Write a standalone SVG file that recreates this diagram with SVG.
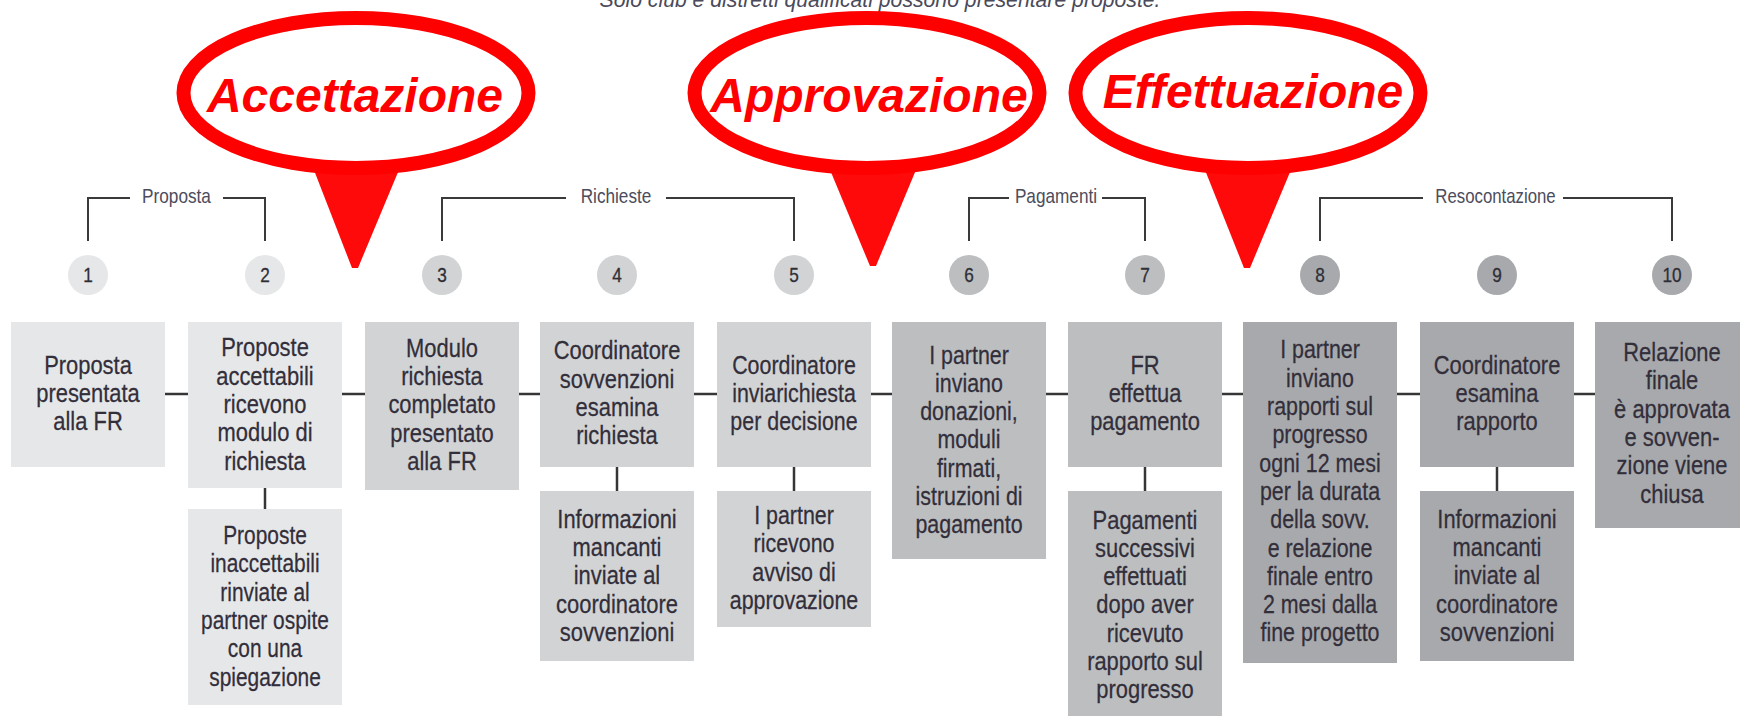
<svg xmlns="http://www.w3.org/2000/svg" width="1740" height="716" viewBox="0 0 1740 716">
<style>
.bg{fill:#ffffff}
.t{font-family:'Liberation Sans',Arial,sans-serif;font-size:25.5px;fill:#322e3a;text-anchor:middle;stroke:#322e3a;stroke-width:0.25}
.num{font-family:'Liberation Sans',Arial,sans-serif;font-size:21px;fill:#2e2e36;text-anchor:middle;stroke:#2e2e36;stroke-width:0.3}
.lbl{font-family:'Liberation Sans',Arial,sans-serif;font-size:20px;fill:#4c4c5c;text-anchor:middle}
.title{font-family:'Liberation Sans',Arial,sans-serif;font-size:22px;font-style:italic;fill:#4a4a5a;text-anchor:middle}
.c1{fill:#e6e7e8}.c2{fill:#d1d3d4}.c3{fill:#bcbec0}.c4{fill:#a7a9ac}
.ln{stroke:#363636;stroke-width:2.5;fill:none}
.br{stroke:#3a3a3a;stroke-width:2;fill:none}
.ell{fill:#ffffff;stroke:#ff0000;stroke-width:14}
.tail{fill:#ff0a0a}
.big{font-family:'Liberation Sans',Arial,sans-serif;font-size:48px;font-weight:bold;font-style:italic;fill:#ff0000;text-anchor:middle}
</style>
<rect class="bg" x="0" y="0" width="1740" height="716"/>
<text class="title" x="880" y="7" textLength="561" lengthAdjust="spacingAndGlyphs">Solo club e distretti qualificati possono presentare proposte.</text>

<g id="connectors">
  <line class="ln" x1="165" y1="394" x2="188" y2="394"/>
  <line class="ln" x1="342" y1="394" x2="365" y2="394"/>
  <line class="ln" x1="519" y1="394" x2="540" y2="394"/>
  <line class="ln" x1="694" y1="394" x2="717" y2="394"/>
  <line class="ln" x1="871" y1="394" x2="892" y2="394"/>
  <line class="ln" x1="1046" y1="394" x2="1068" y2="394"/>
  <line class="ln" x1="1222" y1="394" x2="1243" y2="394"/>
  <line class="ln" x1="1397" y1="394" x2="1420" y2="394"/>
  <line class="ln" x1="1574" y1="394" x2="1595" y2="394"/>
  <line class="ln" x1="265" y1="488" x2="265" y2="509"/>
  <line class="ln" x1="617" y1="467" x2="617" y2="491"/>
  <line class="ln" x1="794" y1="467" x2="794" y2="491"/>
  <line class="ln" x1="1145" y1="467" x2="1145" y2="491"/>
  <line class="ln" x1="1497" y1="467" x2="1497" y2="491"/>
  <polyline class="br" points="88,241 88,198 130,198"/>
  <polyline class="br" points="223,198 265,198 265,241"/>
  <polyline class="br" points="442,241 442,198 566,198"/>
  <polyline class="br" points="666,198 794,198 794,241"/>
  <polyline class="br" points="969,241 969,198 1009,198"/>
  <polyline class="br" points="1102,198 1145,198 1145,241"/>
  <polyline class="br" points="1320,241 1320,198 1423,198"/>
  <polyline class="br" points="1563,198 1672,198 1672,241"/>
</g>

<g id="phase-labels">
  <text class="lbl" transform="matrix(0.86 0 0 1 176.5 0)" x="0" y="203">Proposta</text>
  <text class="lbl" transform="matrix(0.86 0 0 1 616 0)" x="0" y="203">Richieste</text>
  <text class="lbl" transform="matrix(0.86 0 0 1 1056 0)" x="0" y="203">Pagamenti</text>
  <text class="lbl" transform="matrix(0.84 0 0 1 1495.5 0)" x="0" y="203">Resocontazione</text>
</g>

<g id="step-numbers">
  <circle class="c1" cx="88" cy="275" r="20"/><text class="num" transform="matrix(0.82 0 0 1 88 0)" x="0" y="282.5">1</text>
  <circle class="c1" cx="265" cy="275" r="20"/><text class="num" transform="matrix(0.82 0 0 1 265 0)" x="0" y="282.5">2</text>
  <circle class="c2" cx="442" cy="275" r="20"/><text class="num" transform="matrix(0.82 0 0 1 442 0)" x="0" y="282.5">3</text>
  <circle class="c2" cx="617" cy="275" r="20"/><text class="num" transform="matrix(0.82 0 0 1 617 0)" x="0" y="282.5">4</text>
  <circle class="c2" cx="794" cy="275" r="20"/><text class="num" transform="matrix(0.82 0 0 1 794 0)" x="0" y="282.5">5</text>
  <circle class="c3" cx="969" cy="275" r="20"/><text class="num" transform="matrix(0.82 0 0 1 969 0)" x="0" y="282.5">6</text>
  <circle class="c3" cx="1145" cy="275" r="20"/><text class="num" transform="matrix(0.82 0 0 1 1145 0)" x="0" y="282.5">7</text>
  <circle class="c4" cx="1320" cy="275" r="20"/><text class="num" transform="matrix(0.82 0 0 1 1320 0)" x="0" y="282.5">8</text>
  <circle class="c4" cx="1497" cy="275" r="20"/><text class="num" transform="matrix(0.82 0 0 1 1497 0)" x="0" y="282.5">9</text>
  <circle class="c4" cx="1672" cy="275" r="20"/><text class="num" transform="matrix(0.82 0 0 1 1672 0)" x="0" y="282.5">10</text>
</g>

<g id="n1"><rect class="c1" x="11" y="322" width="154" height="145"/>
<text class="t" transform="matrix(0.86 0 0 1 88 0)"><tspan x="0" y="373.7">Proposta</tspan><tspan x="0" y="402">presentata</tspan><tspan x="0" y="430.3">alla FR</tspan></text></g>

<g id="n2"><rect class="c1" x="188" y="322" width="154" height="166"/>
<text class="t" transform="matrix(0.86 0 0 1 265 0)"><tspan x="0" y="356.4">Proposte</tspan><tspan x="0" y="384.7">accettabili</tspan><tspan x="0" y="413">ricevono</tspan><tspan x="0" y="441.3">modulo di</tspan><tspan x="0" y="469.6">richiesta</tspan></text></g>

<g id="n2b"><rect class="c1" x="188" y="509" width="154" height="196"/>
<text class="t" transform="matrix(0.82 0 0 1 265 0)"><tspan x="0" y="544.2">Proposte</tspan><tspan x="0" y="572.5">inaccettabili</tspan><tspan x="0" y="600.8">rinviate al</tspan><tspan x="0" y="629.1">partner ospite</tspan><tspan x="0" y="657.4">con una</tspan><tspan x="0" y="685.7">spiegazione</tspan></text></g>

<g id="n3"><rect class="c2" x="365" y="322" width="154" height="168"/>
<text class="t" transform="matrix(0.86 0 0 1 442 0)"><tspan x="0" y="356.9">Modulo</tspan><tspan x="0" y="385.2">richiesta</tspan><tspan x="0" y="413.5">completato</tspan><tspan x="0" y="441.8">presentato</tspan><tspan x="0" y="470.1">alla FR</tspan></text></g>

<g id="n4"><rect class="c2" x="540" y="322" width="154" height="145"/>
<text class="t" transform="matrix(0.86 0 0 1 617 0)"><tspan x="0" y="359.5">Coordinatore</tspan><tspan x="0" y="387.8">sovvenzioni</tspan><tspan x="0" y="416.1">esamina</tspan><tspan x="0" y="444.4">richiesta</tspan></text></g>

<g id="n4b"><rect class="c2" x="540" y="491" width="154" height="170"/>
<text class="t" transform="matrix(0.86 0 0 1 617 0)"><tspan x="0" y="527.9">Informazioni</tspan><tspan x="0" y="556.2">mancanti</tspan><tspan x="0" y="584.5">inviate al</tspan><tspan x="0" y="612.8">coordinatore</tspan><tspan x="0" y="641.1">sovvenzioni</tspan></text></g>

<g id="n5"><rect class="c2" x="717" y="322" width="154" height="145"/>
<text class="t" transform="matrix(0.84 0 0 1 794 0)"><tspan x="0" y="373.7">Coordinatore</tspan><tspan x="0" y="402">inviarichiesta</tspan><tspan x="0" y="430.3">per decisione</tspan></text></g>

<g id="n5b"><rect class="c2" x="717" y="491" width="154" height="136"/>
<text class="t" transform="matrix(0.84 0 0 1 794 0)"><tspan x="0" y="524">I partner</tspan><tspan x="0" y="552.3">ricevono</tspan><tspan x="0" y="580.6">avviso di</tspan><tspan x="0" y="608.9">approvazione</tspan></text></g>

<g id="n6"><rect class="c3" x="892" y="322" width="154" height="237"/>
<text class="t" transform="matrix(0.84 0 0 1 969 0)"><tspan x="0" y="363.6">I partner</tspan><tspan x="0" y="391.9">inviano</tspan><tspan x="0" y="420.2">donazioni,</tspan><tspan x="0" y="448.5">moduli</tspan><tspan x="0" y="476.8">firmati,</tspan><tspan x="0" y="505.1">istruzioni di</tspan><tspan x="0" y="533.4">pagamento</tspan></text></g>

<g id="n7"><rect class="c3" x="1068" y="322" width="154" height="145"/>
<text class="t" transform="matrix(0.86 0 0 1 1145 0)"><tspan x="0" y="373.7">FR</tspan><tspan x="0" y="402">effettua</tspan><tspan x="0" y="430.3">pagamento</tspan></text></g>

<g id="n7b"><rect class="c3" x="1068" y="491" width="154" height="230"/>
<text class="t" transform="matrix(0.86 0 0 1 1145 0)"><tspan x="0" y="528.6">Pagamenti</tspan><tspan x="0" y="556.9">successivi</tspan><tspan x="0" y="585.2">effettuati</tspan><tspan x="0" y="613.5">dopo aver</tspan><tspan x="0" y="641.8">ricevuto</tspan><tspan x="0" y="670.1">rapporto sul</tspan><tspan x="0" y="698.4">progresso</tspan></text></g>

<g id="n8"><rect class="c4" x="1243" y="322" width="154" height="341"/>
<text class="t" transform="matrix(0.84 0 0 1 1320 0)"><tspan x="0" y="358.5">I partner</tspan><tspan x="0" y="386.8">inviano</tspan><tspan x="0" y="415.1">rapporti sul</tspan><tspan x="0" y="443.4">progresso</tspan><tspan x="0" y="471.7">ogni 12 mesi</tspan><tspan x="0" y="500">per la durata</tspan><tspan x="0" y="528.3">della sovv.</tspan><tspan x="0" y="556.6">e relazione</tspan><tspan x="0" y="584.9">finale entro</tspan><tspan x="0" y="613.2">2 mesi dalla</tspan><tspan x="0" y="641.5">fine progetto</tspan></text></g>

<g id="n9"><rect class="c4" x="1420" y="322" width="154" height="145"/>
<text class="t" transform="matrix(0.86 0 0 1 1497 0)"><tspan x="0" y="373.7">Coordinatore</tspan><tspan x="0" y="402">esamina</tspan><tspan x="0" y="430.3">rapporto</tspan></text></g>

<g id="n9b"><rect class="c4" x="1420" y="491" width="154" height="170"/>
<text class="t" transform="matrix(0.86 0 0 1 1497 0)"><tspan x="0" y="527.9">Informazioni</tspan><tspan x="0" y="556.2">mancanti</tspan><tspan x="0" y="584.5">inviate al</tspan><tspan x="0" y="612.8">coordinatore</tspan><tspan x="0" y="641.1">sovvenzioni</tspan></text></g>

<g id="n10"><rect class="c4" x="1595" y="322" width="154" height="206"/>
<text class="t" transform="matrix(0.86 0 0 1 1672 0)"><tspan x="0" y="361.2">Relazione</tspan><tspan x="0" y="389.5">finale</tspan><tspan x="0" y="417.8">è approvata</tspan><tspan x="0" y="446.1">e sovven-</tspan><tspan x="0" y="474.4">zione viene</tspan><tspan x="0" y="502.7">chiusa</tspan></text></g>

<g id="callout-accettazione">
  <polygon class="tail" points="312,165 401,165 358,268 352,268"/>
  <ellipse class="ell" cx="356" cy="93" rx="172.5" ry="75"/>
  <text class="big" x="355" y="112">Accettazione</text>
</g>
<g id="callout-approvazione">
  <polygon class="tail" points="828,165 918,165 876,266 870,266"/>
  <ellipse class="ell" cx="867" cy="93" rx="172.5" ry="75"/>
  <text class="big" x="869" y="112">Approvazione</text>
</g>
<g id="callout-effettuazione">
  <polygon class="tail" points="1203,165 1293,165 1250,268 1244,268"/>
  <ellipse class="ell" cx="1248" cy="93" rx="172.5" ry="75"/>
  <text class="big" x="1253" y="108">Effettuazione</text>
</g>
</svg>
